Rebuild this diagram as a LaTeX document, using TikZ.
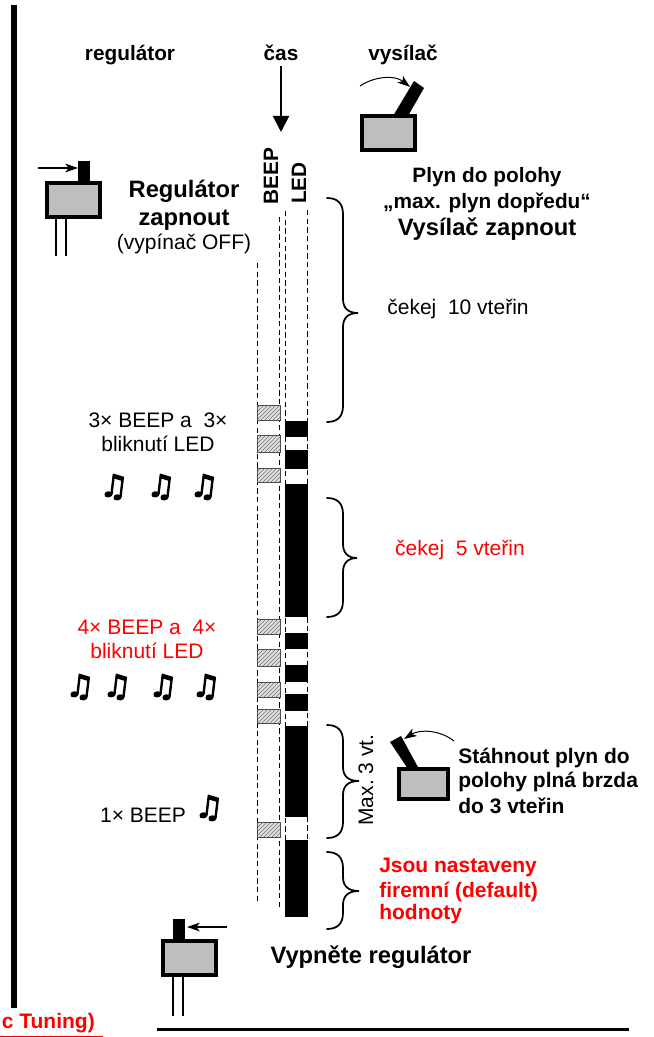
\documentclass[tikz,border=0pt]{standalone}
\usepackage{fontspec}
\setmainfont{Liberation Sans}
\newfontfamily\notefont[FakeSlant=0.12,FakeBold=4]{DejaVu Sans}
\usetikzlibrary{arrows.meta,patterns}
\definecolor{boxgray}{RGB}{190,190,190}
\definecolor{sigred}{RGB}{255,0,0}
\newcommand{\pxfont}[1]{\fontsize{#1}{#1}\selectfont}
\tikzset{
  x=0.75pt,y=-0.75pt,
  txt/.style={inner sep=0pt,anchor=base,font=\pxfont{15.75pt}},
  boldtxt/.style={inner sep=0pt,anchor=base,font=\bfseries\pxfont{15.6pt}},
  bigbold/.style={inner sep=0pt,anchor=base,font=\bfseries\pxfont{17.8pt}},
  leftbold/.style={inner sep=0pt,anchor=base west,font=\bfseries\pxfont{15.75pt}},
  alert/.style={text=sigred},
  notegl/.style={inner sep=0pt,font=\notefont\pxfont{23pt}},
  swbox/.style={draw=black,line width=3pt,fill=boxgray},
  knob/.style={fill=black},
  thin wire/.style={line width=1.5pt,draw=black},
  ptr/.style={line width=1pt,-{Stealth[length=9.5pt,width=6.5pt,inset=2.5pt]}},
  guide/.style={draw=black,line width=0.75pt,dash pattern=on 4pt off 2.5pt},
  beepbox/.style={draw=black!70,line width=0.75pt,pattern=north east lines,pattern color=black!55},
  curly/.style={draw=black,line width=1.3pt,line cap=round},
}
\newcommand{\curly}[4]{% top, tip y, bottom, tip x
  \draw[curly] (327,#1) .. controls (337,#1) and (343,#1+5) .. (343,#1+16)
    -- (343,#2-14) .. controls (343,#2-5) and (348,#2) .. (#4,#2)
    .. controls (348,#2) and (343,#2+5) .. (343,#2+14)
    -- (343,#3-16) .. controls (343,#3-5) and (337,#3) .. (327,#3);}
\newcommand{\ledon}[2]{\fill[black] (285,#1) rectangle (308,#2);}
\newcommand{\beep}[2]{\filldraw[fill=black!12,draw=black!70,line width=0.75pt] (257.5,#1) rectangle (280,#2);\path[beepbox] (257.5,#1) rectangle (280,#2);}
\begin{document}
\begin{tikzpicture}
\useasboundingbox (0,0) rectangle (653,1037);
% frame bar and bottom rule
\fill[black] (11,5) rectangle (17,1008);
\coordinate (ruleL) at (157,1029);
\coordinate (ruleR) at (629,1029);
\draw[line width=2.25pt] (ruleL) -- (ruleR);
% headings
\node[boldtxt] (hReg) at (130,61) {regulátor};
\node[boldtxt] (hCas) at (281,61) {čas};
\node[boldtxt] (hVys) at (403,61) {vysílač};
\coordinate (casA) at (281,66);
\coordinate (casB) at (281,132);
\draw[line width=1.5pt,-{Triangle[length=12pt,width=12pt]}] (casA) -- (casB);
\node[boldtxt,anchor=center,rotate=90] (lBeep) at (271,176) {BEEP};
\node[boldtxt,anchor=center,rotate=90] (lLed) at (299,183) {LED};
% guides
\draw[guide] (257,263) -- (257,903);
\draw[guide] (279.5,217) -- (279.5,909);
\draw[guide] (285.5,211) -- (285.5,917);
\draw[guide] (307.5,210) -- (307.5,917);
% LED bars
\ledon{421}{437}\ledon{450}{469}\ledon{484}{617}\ledon{633}{649}
\ledon{665}{682}\ledon{694}{711}\ledon{726}{817}\ledon{840}{917}
% beep boxes
\beep{405}{420}\beep{435}{452}\beep{468}{482}\beep{619}{634}
\beep{649}{666}\beep{682}{697}\beep{709}{723}\beep{822}{837}
% switch 1
\fill[knob] (78,161) rectangle (90,183);
\draw[swbox] (47,183) rectangle (100,217);
\draw[thin wire] (56,219) -- (56,256) (66,219) -- (66,256);
\coordinate (a1) at (38,168); \coordinate (a1b) at (78,168);
\draw[ptr] (a1) -- (a1b);
\node[bigbold] (tReg) at (184,198) {Regulátor};
\node[bigbold] (tZap) at (184,226) {zapnout};
\node[txt] (tOff) at (184,250) {(vypínač OFF)};
% transmitter switch
\fill[knob] (393,116) -- (414,81) -- (424,88) -- (408,116) -- cycle;
\draw[swbox] (362,116) rectangle (415,150);
\coordinate (a2) at (360,86); \coordinate (a2b) at (410,87);
\draw[ptr,line width=0.75pt] (a2) .. controls (375,76) and (395,75) .. (a2b);
\node[boldtxt] (tPlyn) at (487,183) {Plyn do polohy};
\node[boldtxt] (tMax) at (487,209) {„max. plyn dopředu“};
\node[bigbold] (tVys) at (487,236) {Vysílač zapnout};
% braces
\curly{198}{313}{422}{358}
\curly{498}{558}{617}{357}
\curly{725}{781}{838}{359}
\curly{852}{891}{929}{359}
\node[txt] (tW10) at (458,315) {čekej\ \ 10 vteřin};
\node[txt,alert] (tW5) at (460,555) {čekej\ \ 5 vteřin};
% beep text
\node[txt] (t3a) at (158,427) {3× BEEP a\ \ 3×};
\node[txt] (t3b) at (158,451) {bliknutí LED};
\node[notegl] (n1) at (113,487) {♫};
\node[notegl] (n2) at (160,487) {♫};
\node[notegl] (n3) at (203,487) {♫};
\node[txt,alert] (t4a) at (147,634) {4× BEEP a\ \ 4×};
\node[txt,alert] (t4b) at (147,658) {bliknutí LED};
\node[notegl] (n4) at (79,687) {♫};
\node[notegl] (n5) at (116,687) {♫};
\node[notegl] (n6) at (162,687) {♫};
\node[notegl] (n7) at (205,687) {♫};
\node[txt] (t1) at (143,822) {1× BEEP};
\node[notegl] (n8) at (208,808) {♫};
% brake switch
\fill[knob] (390,742) -- (401,736) -- (419,769) -- (408,769) -- cycle;
\draw[swbox] (399,769) rectangle (448,799);
\coordinate (a3) at (454,741); \coordinate (a3b) at (404,739);
\draw[ptr,line width=0.75pt] (a3) .. controls (440,730) and (420,729) .. (a3b);
\node[txt,anchor=center,rotate=90] (tMax3) at (366,780) {Max.\ 3 vt.};
\node[leftbold] (tS1) at (458,763) {Stáhnout plyn do};
\node[leftbold] (tS2) at (458,787) {polohy plná brzda};
\node[leftbold] (tS3) at (458,813) {do 3 vteřin};
\node[leftbold,alert] (tJ1) at (379,872) {Jsou nastaveny};
\node[leftbold,alert] (tJ2) at (379,897) {firemní (default)};
\node[leftbold,alert] (tJ3) at (379,919) {hodnoty};
% switch 4
\fill[knob] (173,919) rectangle (185,941);
\draw[swbox] (163,941) rectangle (216,975);
\draw[thin wire] (173,977) -- (173,1016) (183,977) -- (183,1016);
\coordinate (a4) at (227,927); \coordinate (a4b) at (187,927);
\draw[ptr] (a4) -- (a4b);
\node[bigbold] (tOffR) at (371,963) {Vypněte regulátor};
% clipped footer
\node[leftbold,alert,anchor=base east] (tTun) at (95,1028) {c Tuning)};
\coordinate (u1) at (0,1036); \coordinate (u2) at (103,1036);
\draw[sigred,line width=0.75pt] (u1) -- (u2);
\end{tikzpicture}
\end{document}
